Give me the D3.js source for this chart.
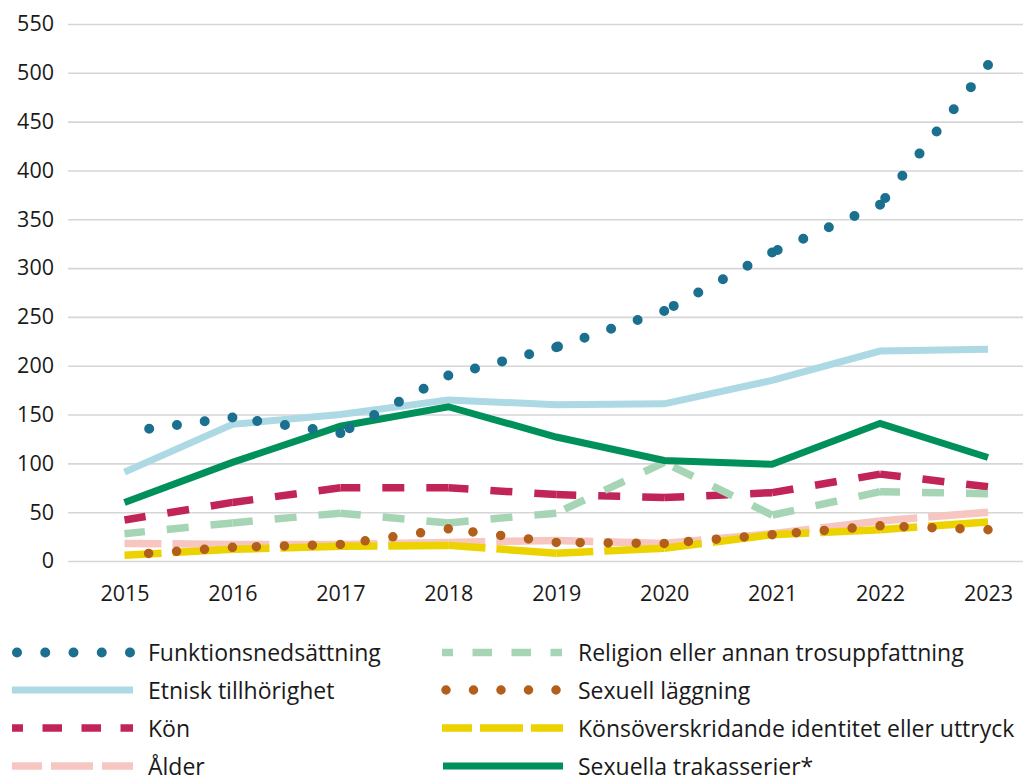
<!doctype html>
<html>
<head>
<meta charset="utf-8">
<script src="https://cdnjs.cloudflare.com/ajax/libs/d3/7.8.5/d3.min.js"></script>
<style>
  body { margin: 0; background: #fff; }
  text { font-family: "Open Sans", sans-serif; fill: #1a1a1a; }
  .axis text { font-size: 21.5px; }
  .legend text { font-size: 23px; }
</style>
</head>
<body>
<div id="chart"></div>
<script>
// data
var years = ["2015", "2016", "2017", "2018", "2019", "2020", "2021", "2022", "2023"];
var yTicks = [0, 50, 100, 150, 200, 250, 300, 350, 400, 450, 500, 550];

var funktion  = [132, 147, 131, 190, 219, 256, 316, 365, 508];
var etnisk    = [91, 140, 150, 165, 160, 161, 185, 215, 217];
var kon       = [42, 60, 75, 75, 68, 65, 70, 89, 76];
var alder     = [18, 17, 17, 19, 21, 18, 28, 41, 50];
var religion  = [28, 39, 49, 39, 49, 101, 47, 71, 69];
var sexuell   = [6, 14, 17, 33, 19, 18, 27, 36, 32];
var konsover  = [6, 12, 15, 16, 8, 13, 27, 32, 40];
var trakass   = [60, 101, 138, 158, 127, 103, 99, 141, 106];

var labels = ["Funktionsnedsättning", "Etnisk tillhörighet", "Kön", "Ålder",
  "Religion eller annan trosuppfattning", "Sexuell läggning",
  "Könsöverskridande identitet eller uttryck", "Sexuella trakasserier*"];

var width = 1023, height = 776;

var svg = d3.select("#chart").append("svg")
  .attr("width", width)
  .attr("height", height);

var x = d3.scalePoint().domain(years).range([124.5, 988]);
var y = d3.scaleLinear().domain([0, 550]).range([561, 24]);

// y axis with gridlines
var yAxis = svg.append("g")
  .attr("class", "axis")
  .attr("transform", "translate(68,0)")
  .call(d3.axisLeft(y).tickValues(yTicks).tickSize(-(width - 68)).tickPadding(14));
yAxis.select(".domain").remove();
yAxis.selectAll("line").attr("stroke", "#d6d6d6").attr("stroke-width", 1.6);
yAxis.selectAll("text").attr("fill", "#1a1a1a");

// x axis
var xAxis = svg.append("g")
  .attr("class", "axis")
  .attr("transform", "translate(0,561)")
  .call(d3.axisBottom(x).tickSize(0).tickPadding(25));
xAxis.select(".domain").remove();
xAxis.selectAll("text").attr("fill", "#1a1a1a");

// styles: dash pattern runs back from the later year of every segment
var styles = {
  funktion: { color: "#1b6f8f", w: 10,  dash: "0 28", cap: "round" },
  etnisk:   { color: "#acd9e3", w: 7,   dash: null,   cap: "butt" },
  kon:      { color: "#c12557", w: 7.5, dash: "22 22", cap: "butt" },
  alder:    { color: "#f7c6c1", w: 7.5, dash: "60 11", cap: "butt" },
  religion: { color: "#a5d5b4", w: 7.5, dash: "22 22", cap: "butt" },
  sexuell:  { color: "#b25f1b", w: 9.5, dash: "0 28", cap: "round" },
  konsover: { color: "#ecd300", w: 7.5, dash: "60 11", cap: "butt" },
  trakass:  { color: "#00915b", w: 7,   dash: null,   cap: "butt" }
};

var line = d3.line()
  .x(function(d) { return x(d[0]); })
  .y(function(d) { return y(d[1]); });

function drawSeries(values, st) {
  var g = svg.append("g");
  if (!st.dash) {
    g.append("path")
      .attr("d", line(years.map(function(yr, i) { return [yr, values[i]]; })))
      .attr("fill", "none")
      .attr("stroke", st.color)
      .attr("stroke-width", st.w)
      .attr("stroke-linejoin", "miter");
    return;
  }
  for (var i = 0; i < years.length - 1; i++) {
    g.append("path")
      .attr("d", line([[years[i + 1], values[i + 1]], [years[i], values[i]]]))
      .attr("fill", "none")
      .attr("stroke", st.color)
      .attr("stroke-width", st.w)
      .attr("stroke-linecap", st.cap)
      .attr("stroke-dasharray", st.dash);
  }
}

drawSeries(etnisk, styles.etnisk);
drawSeries(kon, styles.kon);
drawSeries(religion, styles.religion);
drawSeries(trakass, styles.trakass);
drawSeries(alder, styles.alder);
drawSeries(konsover, styles.konsover);
drawSeries(sexuell, styles.sexuell);
drawSeries(funktion, styles.funktion);

// legend
var legendSamples = [
  { st: styles.funktion, x1: 17,  x2: 131, dash: "0 28.25", off: 0 },
  { st: styles.etnisk,   x1: 12,  x2: 133, dash: null, off: 0 },
  { st: styles.kon,      x1: 12,  x2: 133, dash: "19.5 19.5", off: 8.5 },
  { st: styles.alder,    x1: 12,  x2: 133, dash: "42 9", off: 12 },
  { st: styles.religion, x1: 442, x2: 562, dash: "19.5 19.5", off: 8.5 },
  { st: styles.sexuell,  x1: 446, x2: 557, dash: "0 27.5", off: 0 },
  { st: styles.konsover, x1: 442, x2: 563, dash: "43 8", off: 13 },
  { st: styles.trakass,  x1: 443, x2: 563, dash: null, off: 0 }
];
var rowY = [652.5, 690, 728, 766];

var legend = svg.append("g").attr("class", "legend");
legendSamples.forEach(function(s, i) {
  var ly = rowY[i % 4];
  legend.append("line")
    .attr("x1", s.x1).attr("x2", s.x2)
    .attr("y1", ly).attr("y2", ly)
    .attr("stroke", s.st.color)
    .attr("stroke-width", s.st.w)
    .attr("stroke-linecap", s.st.cap)
    .attr("stroke-dasharray", s.dash)
    .attr("stroke-dashoffset", s.off);
  legend.append("text")
    .attr("x", i < 4 ? 148 : 578)
    .attr("y", ly + 8.5)
    .text(labels[i]);
});
</script>
</body>
</html>
